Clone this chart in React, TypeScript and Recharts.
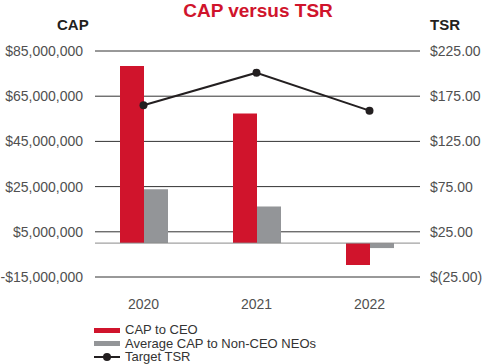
import {
  ComposedChart,
  Bar,
  Line,
  XAxis,
  YAxis,
  CartesianGrid,
  ReferenceLine,
} from 'recharts';

const years = ['2020', '2021', '2022'];
const capCeo = [78400000, 57300000, -9700000];
const capNeo = [23800000, 16200000, -2200000];
const targetTsr = [165, 201, 159];

const capTicks = [-15000000, 5000000, 25000000, 45000000, 65000000, 85000000];
const tsrTicks = [-25, 25, 75, 125, 175, 225];

const RED = '#D0142C';
const GRAY = '#939598';
const INK = '#231F20';
const FONT = '"Liberation Sans", Arial, Helvetica, sans-serif';

const data = years.map((year, i) => ({
  year,
  ceo: capCeo[i],
  neo: capNeo[i],
  tsr: targetTsr[i],
}));

function formatCap(v: number): string {
  const s = '$' + Math.abs(v).toLocaleString('en-US');
  return v < 0 ? '-' + s : s;
}

function formatTsr(v: number): string {
  return v < 0 ? `$(${Math.abs(v).toFixed(2)})` : `$${v.toFixed(2)}`;
}

// grid lines sit a little inside the category band
function GridLine(props: any) {
  const { x1, x2, y1, y2 } = props;
  return <line x1={x1 + 8} x2={x2 - 6} y1={y1} y2={y2} stroke="#333333" strokeWidth={1} />;
}

function ZeroLine(props: any) {
  const { x1, x2, y1, y2 } = props;
  return <line x1={x1 + 8} x2={x2 - 6} y1={y1} y2={y2} stroke="#8A8A8A" strokeWidth={1} />;
}

const tickStyle = { fontSize: 14, fill: '#505050', fontFamily: FONT };

function LegendRow({ kind, color, label }: { kind: 'bar' | 'line'; color: string; label: string }) {
  return (
    <div style={{ display: 'flex', alignItems: 'center', height: 13.5 }}>
      <svg width={27} height={10} style={{ marginRight: 4 }}>
        {kind === 'bar' ? (
          <rect x={0} y={3} width={26} height={5} fill={color} />
        ) : (
          <>
            <line x1={0} x2={26} y1={5} y2={5} stroke={color} strokeWidth={2} />
            <circle cx={13} cy={5} r={4} fill={color} />
          </>
        )}
      </svg>
      <span>{label}</span>
    </div>
  );
}

export default function App() {
  return (
    <div
      style={{
        position: 'absolute',
        left: 0,
        top: 0,
        width: 483,
        height: 364,
        background: '#fff',
        fontFamily: FONT,
      }}
    >
      <div
        style={{
          position: 'absolute',
          left: 0,
          width: 516,
          top: 0,
          textAlign: 'center',
          color: RED,
          fontWeight: 'bold',
          fontSize: 19,
          lineHeight: '22px',
        }}
      >
        CAP versus TSR
      </div>
      <div style={{ position: 'absolute', left: 57, top: 16, fontSize: 15, fontWeight: 'bold', color: '#231F20' }}>
        CAP
      </div>
      <div style={{ position: 'absolute', left: 430, top: 16, fontSize: 15, fontWeight: 'bold', color: '#231F20' }}>
        TSR
      </div>
      <ComposedChart
        width={483}
        height={364}
        data={data}
        margin={{ top: 51, right: 0, bottom: 0, left: 0 }}
        barGap={0}
        barSize={24}
      >
        <CartesianGrid vertical={false} horizontal={<GridLine />} yAxisId="cap" />
        <XAxis
          dataKey="year"
          axisLine={false}
          tickLine={false}
          tickSize={0}
          tickMargin={22}
          height={87}
          tick={tickStyle}
        />
        <YAxis
          yAxisId="cap"
          orientation="left"
          width={87}
          domain={[-15000000, 85000000]}
          ticks={capTicks}
          tickFormatter={formatCap}
          axisLine={false}
          tickLine={false}
          tickSize={0}
          tickMargin={4}
          tick={tickStyle}
        />
        <YAxis
          yAxisId="tsr"
          orientation="right"
          width={57}
          domain={[-25, 225]}
          ticks={tsrTicks}
          tickFormatter={formatTsr}
          axisLine={false}
          tickLine={false}
          tickSize={0}
          tickMargin={4}
          tick={tickStyle}
        />
        <ReferenceLine yAxisId="cap" y={0} shape={<ZeroLine />} />
        <Bar yAxisId="cap" dataKey="ceo" name="CAP to CEO" fill={RED} isAnimationActive={false} />
        <Bar yAxisId="cap" dataKey="neo" name="Average CAP to Non-CEO NEOs" fill={GRAY} isAnimationActive={false} />
        <Line
          yAxisId="tsr"
          dataKey="tsr"
          name="Target TSR"
          stroke={INK}
          strokeWidth={2}
          dot={{ r: 4, fill: INK, stroke: INK, strokeWidth: 0 }}
          isAnimationActive={false}
        />
      </ComposedChart>
      <div
        style={{
          position: 'absolute',
          left: 94,
          top: 323,
          fontSize: 13,
          color: '#333333',
          lineHeight: '13.5px',
        }}
      >
        <LegendRow kind="bar" color={RED} label="CAP to CEO" />
        <LegendRow kind="bar" color={GRAY} label="Average CAP to Non-CEO NEOs" />
        <LegendRow kind="line" color={INK} label="Target TSR" />
      </div>
    </div>
  );
}
